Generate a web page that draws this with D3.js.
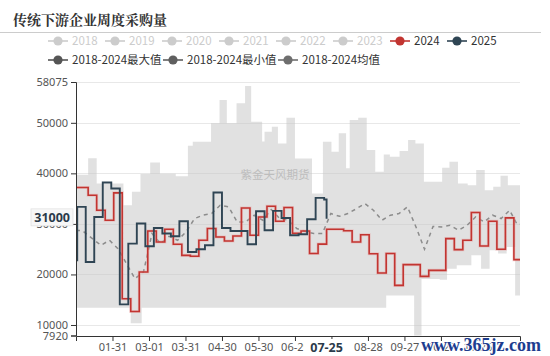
<!DOCTYPE html>
<html><head><meta charset="utf-8">
<script src="https://cdn.jsdelivr.net/npm/d3@7"></script>
<style>
body{margin:0;background:#fff;}
svg{display:block;font-family:"Noto Sans","Noto Sans CJK SC",sans-serif;}
</style>
</head><body>
<svg id="c" width="550" height="356"></svg>
<script>
// ---------- data ----------
const titleText = "传统下游企业周度采购量";
const tickDays = [30,60,90,120,150,180,210,240,270,300,330];
const tickLabels = ["01-31","03-01","03-31","04-30","05-30","06-29","07-29","08-28","09-27","10-27","11-26"];
const yTicks = [7920,10000,20000,30000,40000,50000,58075];
const yMin = 7920, yMax = 58075;

const legendRow1 = ["2018","2019","2020","2021","2022","2023","2024","2025"];
const legendRow1Colors = ["#ccc","#ccc","#ccc","#ccc","#ccc","#ccc","#c23531","#2f4554"];
const legendRow1Active = [false,false,false,false,false,false,true,true];
const legendRow2 = ["2018-2024最大值","2018-2024最小值","2018-2024均值"];
const legendRow2Colors = ["#555","#5f5f5f","#6e6e6e"];

// 2024 weekly values (step start days)
const days2024 = [0,10,17,24,31,38,45,52,59,66,73,80,87,94,101,108,115,122,129,136,143,150,157,164,171,178,185,192,199,206,213,220,227,234,241,248,255,262,269,276,283,290,297,304,311,318,325,332,339,346,353,360];
const vals2024 = [37210,35680,32700,30720,36140,15200,12680,20470,28600,26420,28940,25970,23780,23590,26760,29080,27410,26620,27610,33160,27750,31380,33500,30530,33240,28150,28600,24150,26000,28940,28940,28650,26420,27850,24080,20280,24150,17830,21940,21940,19620,20810,20810,27090,24910,26760,32250,25630,30530,24970,31190,22930];

// 2025 weekly values (step start days)
const days2025 = [0,1,8,15,22,29,36,43,50,57,64,71,78,85,92,99,106,113,120,127,134,141,148,155,162,169,176,183,190,197,204,206];
const vals2025 = [22800,33360,22460,31380,38200,37010,14070,26100,30070,25570,29200,28090,27550,30530,24440,24970,25770,36220,29200,28600,28600,25970,32510,28740,32570,31180,27750,27950,30920,35150,34830,31000];

// 2018-2024 average (weekly)
const valsAvg = [28700,27090,25770,26760,25110,22130,19160,20500,28090,26100,27550,26760,28410,31060,31720,32050,33700,33360,30390,30390,31720,30720,32840,31060,30720,29080,28500,28090,28090,32050,31500,32050,33000,34030,32700,30720,31720,32050,33360,29400,25000,29500,29400,29730,28740,29730,31380,30390,31720,31060,32700,29930];

// 2018-2024 max (step start days)
const maxDays = [0,10,17,39,46,53,61,69,82,92,96,111,118,124,132,139,144,153,155,161,166,173,180,194,203,210,216,222,225,232,239,246,253,258,266,273,279,286,301,307,314,322,329,336,343,349,355];
const maxVals = [39700,43000,38000,33700,36340,39850,42160,39900,39450,45460,46250,49900,54520,49900,53870,57300,50220,46300,48230,49230,45930,51010,42960,36000,46250,44270,47920,41000,50550,51010,44600,40300,43750,43280,44400,46590,45930,38320,41100,42290,37990,37660,40640,36670,37330,39510,37660];

// 2018-2024 min (step start days)
const minDays = [0,45,54,255,278,284,299,305,313,325,333,340,347,354,361];
const minVals = [13410,10360,13410,15850,7920,19100,18960,21150,21800,23780,21150,24780,24120,25430,15850];

// ---------- chart ----------
const svg = d3.select("#c");
const L = 76, R = 520, T = 82, B = 335.5;
const x = d3.scaleLinear().domain([0,365]).range([L,R]);
const y = d3.scaleLinear().domain([yMin,yMax]).range([B,T]);
const apX = 206, apY = 31000;

// title
svg.append("text").attr("x",13).attr("y",25)
  .attr("font-family","'Noto Serif CJK SC','Noto Sans CJK SC',serif")
  .attr("font-size",14).attr("font-weight","bold").attr("fill","#333").text(titleText);
svg.append("line").attr("x1",0).attr("x2",541).attr("y1",32.5).attr("y2",32.5)
  .attr("stroke","#ccc").attr("stroke-width",1);

// legend
function legendItem(g, tx, ty, label, color, textColor){
  g.append("line").attr("x1",tx-24).attr("x2",tx-4).attr("y1",ty).attr("y2",ty)
    .attr("stroke",color).attr("stroke-width",1.6);
  g.append("circle").attr("cx",tx-14).attr("cy",ty).attr("r",4.6).attr("fill",color);
  g.append("text").attr("x",tx).attr("y",ty+4).attr("font-size",11.5)
    .attr("font-family","'Noto Sans CJK SC','Noto Sans',sans-serif")
    .attr("fill",textColor).text(label);
}
const lg = svg.append("g");
legendRow1.forEach((n,i)=>legendItem(lg, 72+i*57, 41, n, legendRow1Colors[i], legendRow1Active[i]?"#333":"#ccc"));
legendRow2.forEach((n,i)=>legendItem(lg, 72+i*115, 60, n, legendRow2Colors[i], "#333"));

// grid
svg.append("g").selectAll("line").data(yTicks.filter(v=>v!==yMin)).join("line")
  .attr("x1",L).attr("x2",R).attr("y1",d=>Math.round(y(d))+0.5).attr("y2",d=>Math.round(y(d))+0.5)
  .attr("stroke","#e8e8e8").attr("stroke-width",1);

// band
function stepAt(ds, vs, d){ const i = d3.bisectRight(ds, d) - 1; return vs[Math.max(0,i)]; }
const bandDays = Array.from(new Set([...maxDays, ...minDays, 365])).sort((a,b)=>a-b);
const band = bandDays.map(d=>({d, hi: stepAt(maxDays,maxVals,d), lo: stepAt(minDays,minVals,d)}));
svg.append("path").datum(band)
  .attr("d", d3.area().x(p=>x(p.d)).y0(p=>y(p.lo)).y1(p=>y(p.hi)).curve(d3.curveStepAfter))
  .attr("fill","#c4c4c4").attr("fill-opacity",0.5);

// watermark
svg.append("text").attr("x",275).attr("y",179).attr("text-anchor","middle")
  .attr("font-family","'Noto Sans CJK SC',sans-serif").attr("font-size",11.5)
  .attr("fill","#bdbdbd").text("紫金天风期货");

// avg dashed line (weekly centres)
const weekEnds = days2024.slice(1).concat([365]);
const avgPts = valsAvg.map((v,i)=>[ (days2024[i]+weekEnds[i])/2, v ]);
avgPts.unshift([0, valsAvg[0]]);
avgPts.push([365, valsAvg[valsAvg.length-1]]);
svg.append("path").datum(avgPts)
  .attr("d", d3.line().x(p=>x(p[0])).y(p=>y(p[1])))
  .attr("fill","none").attr("stroke","#8c8c8c").attr("stroke-width",1.5).attr("stroke-dasharray","4,4");

// 2024
const pts2024 = days2024.map((d,i)=>[d, vals2024[i]]).concat([[365, vals2024[vals2024.length-1]]]);
const stepLine = d3.line().x(p=>x(p[0])).y(p=>y(p[1])).curve(d3.curveStepAfter);
svg.append("path").datum(pts2024).attr("d", stepLine)
  .attr("fill","none").attr("stroke","#e8a0a0").attr("stroke-width",3).attr("stroke-opacity",0.45);
svg.append("path").datum(pts2024).attr("d", stepLine)
  .attr("fill","none").attr("stroke","#c23531").attr("stroke-width",1.6);

// 2025
const pts2025 = days2025.map((d,i)=>[d, vals2025[i]]);
svg.append("path").datum(pts2025).attr("d", stepLine)
  .attr("fill","none").attr("stroke","#2f4554").attr("stroke-width",1.9);

// axes
const yAxis = svg.append("g").attr("transform",`translate(${L},0)`)
  .call(d3.axisLeft(y).tickValues(yTicks).tickFormat(d3.format("d")).tickSize(5).tickPadding(3));
const xAxis = svg.append("g").attr("transform",`translate(0,${B+0.5})`)
  .call(d3.axisBottom(x).tickValues(tickDays)
    .tickFormat((d,i)=> d===apX+4 ? "" : tickLabels[i]).tickSize(5).tickPadding(2));
[yAxis,xAxis].forEach(g=>{
  g.select(".domain").attr("stroke","#333");
  g.selectAll(".tick line").attr("stroke","#333");
  g.selectAll("text").attr("fill","#555").attr("font-size",11)
    .attr("font-family","'Noto Sans','Open Sans',sans-serif");
});

// axis pointer labels
const gy = svg.append("g");
gy.append("rect").attr("x",31).attr("y",y(apY)-10).attr("width",42).attr("height",17)
  .attr("fill","#f7f7f7").attr("stroke","#e2e2e2").attr("stroke-width",0.8);
gy.append("text").attr("x",70).attr("y",y(apY)+3.5).attr("text-anchor","end")
  .attr("font-size",12.5).attr("font-weight","bold").attr("fill","#2b3a4a").text(String(apY));
const gx = svg.append("g");
gx.append("rect").attr("x",x(apX)-23).attr("y",339).attr("width",46).attr("height",16)
  .attr("fill","#fff");
gx.append("text").attr("x",x(apX)).attr("y",351.5).attr("text-anchor","middle")
  .attr("font-size",12.5).attr("font-weight","bold").attr("fill","#2b3a4a").text("07-25");

// site stamp
svg.append("text").attr("x",481).attr("y",351).attr("text-anchor","middle")
  .attr("font-family","'Liberation Serif','DejaVu Serif',serif").attr("font-weight","bold")
  .attr("font-size",18).attr("fill","#1d3d8f").attr("stroke","#fff").attr("stroke-width",2)
  .attr("paint-order","stroke").text("www.365jz.com");
</script>
</body></html>
